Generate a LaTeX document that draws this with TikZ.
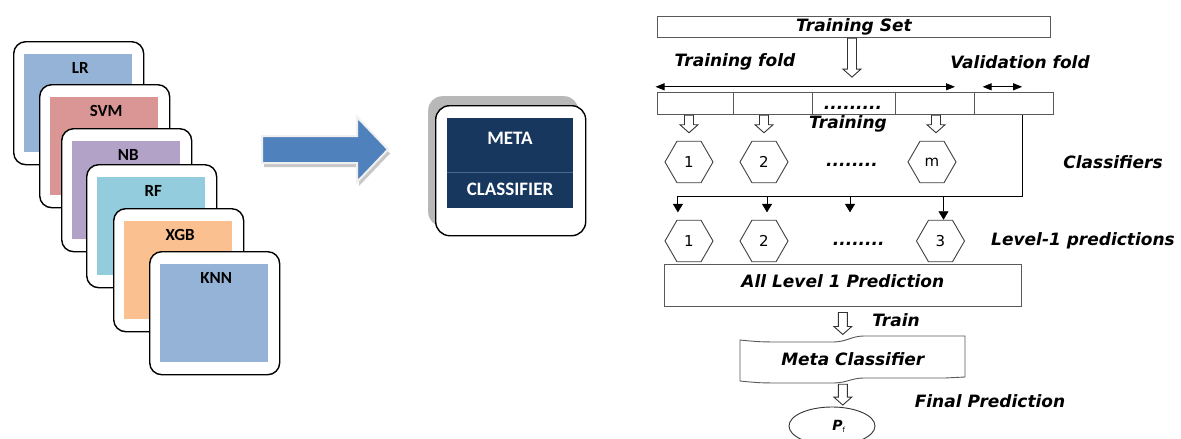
\documentclass[tikz,border=0pt]{standalone}
\usepackage{fontspec}
\setmainfont{DejaVu Sans}[ItalicFont={DejaVu Sans Oblique},BoldItalicFont={DejaVu Sans Bold Oblique}]
\newfontfamily\carl{Carlito}
\usetikzlibrary{shapes.geometric,arrows.meta,calc}
\definecolor{cblue}{HTML}{95B3D7}
\definecolor{cred}{HTML}{D99694}
\definecolor{cpurple}{HTML}{B3A2C7}
\definecolor{ccyan}{HTML}{93CDDD}
\definecolor{corange}{HTML}{FAC090}
\definecolor{cnavy}{HTML}{17375E}
\definecolor{cnavyl}{HTML}{4A6A90}
\definecolor{carrow}{HTML}{4F81BD}
\newcommand\lblfont{\bfseries\itshape\fontsize{17}{20}\selectfont}
\newcommand\mlcard[5]{%
  \node[card] (c#1) at (#2,#3) {};
  \node[cardin, fill=#4] (i#1) at ($(c#1.north west)+(11,12.5)$) {};
  \node[cardlbl] (l#1) at ($(i#1.north)+(2,14)$) {#5};}
\newcommand\harrow[2]{%
  \draw[fill=white, line width=0.9pt, draw=black!80] let \p1=#1, \p2=#2 in
   (\x1-4.5pt,\y1) -- (\x1+4.5pt,\y1) -- (\x1+4.5pt,\y2+8pt) -- (\x1+9pt,\y2+8pt)
   -- (\x1,\y2) -- (\x1-9pt,\y2+8pt) -- (\x1-4.5pt,\y2+8pt) -- cycle;}
\begin{document}
\begin{tikzpicture}[x=1pt,y=-1pt,
  card/.style={draw=black, line width=1.4pt, rounded corners=12pt, fill=white,
    minimum width=130pt, minimum height=123pt, anchor=north west, inner sep=0pt},
  cardin/.style={minimum width=108pt, minimum height=98.5pt, anchor=north west, inner sep=0pt},
  cardlbl/.style={font=\carl\bfseries\fontsize{17}{19}\selectfont, inner sep=0pt},
  metalbl/.style={text=white, font=\carl\bfseries\fontsize{19}{22}\selectfont, inner sep=0pt},
  lbl/.style={font=\lblfont, inner sep=0pt},
  box/.style={draw=black!65, line width=0.9pt, inner sep=0pt},
  hex/.style={regular polygon, regular polygon sides=6, draw=black!75, line width=0.9pt,
    minimum size=48pt, inner sep=0pt, font=\fontsize{15}{17}\selectfont},
  farrow/.style={-{Triangle[length=8.5pt,width=10pt]}, line width=0.9pt},
  darrow/.style={{Triangle[length=9pt,width=7pt]}-{Triangle[length=9pt,width=7pt]}, line width=0.9pt}]
\useasboundingbox[fill=white] (0,0) rectangle (1181,439);

% ---- left: base classifiers
\mlcard{1}{13}{41}{cblue}{LR}
\mlcard{2}{39}{84}{cred}{SVM}
\mlcard{3}{61}{128}{cpurple}{NB}
\mlcard{4}{86}{164}{ccyan}{RF}
\mlcard{5}{113}{208}{corange}{XGB}
\mlcard{6}{149}{251}{cblue}{KNN}

% ---- big arrow
\fill[black!22] (264,140) -- (359,140) -- (359,121) -- (390,153.5) -- (359,186) -- (359,167) -- (264,167) -- cycle;
\draw[fill=carrow, draw=black!6, line width=2pt] (262,136) -- (357,136) -- (357,117) -- (388,149.5) -- (357,182) -- (357,163) -- (262,163) -- cycle;

% ---- meta classifier card
\node[rounded corners=14pt, fill=black!28, minimum width=150pt, minimum height=130pt,
  anchor=north west, inner sep=0pt] (mshadow) at (428,96) {};
\node[draw=black, line width=1.4pt, rounded corners=14pt, fill=white, minimum width=150pt,
  minimum height=130pt, anchor=north west, inner sep=0pt] (mcard) at (435,105) {};
\node[fill=cnavy, minimum width=126pt, minimum height=90pt, anchor=north west, inner sep=0pt] (mnavy) at (447,118) {};
\draw[cnavyl, line width=0.6pt] (mnavy.west |- 0,172) -- (mnavy.east |- 0,172);
\node[metalbl] (mt1) at (510,138) {META};
\node[metalbl] (mt2) at (510,189) {CLASSIFIER};

% ---- right: stacking scheme
\node[box, font=\lblfont, minimum width=392.6pt, minimum height=21.7pt, anchor=north west] (tset) at (657.2,15.5) {Training Set};
\harrow{($(tset.south)+(-2,0)$)}{($(tset.south)+(-2,39)$)}

\node[lbl] (tf) at (735,62) {Training fold};
\node[lbl] (vf) at (1020,62) {Validation fold};
\coordinate (da1) at (655.5,86.8);
\coordinate (da2) at (955,86.8);
\coordinate (db1) at (982.6,86.8);
\coordinate (db2) at (1022.2,86.8);
\draw[darrow] (da1) -- (da2);
\draw[darrow] (db1) -- (db2);

\node[box, minimum width=75.8pt, minimum height=22pt, anchor=north west] (f1) at (657.2,92.3) {};
\node[box, minimum width=79.2pt, minimum height=22pt, anchor=north west] (f2) at (733,92.3) {};
\node[box, minimum width=82.6pt, minimum height=22pt, anchor=north west] (f3) at (812.2,92.3) {};
\node[box, minimum width=79.2pt, minimum height=22pt, anchor=north west] (f4) at (894.8,92.3) {};
\node[box, minimum width=79.2pt, minimum height=22pt, anchor=north west] (f5) at (974,92.3) {};
\node[font=\lblfont, anchor=base, inner sep=0pt] (f3d) at (853,109) {.........};

\node[lbl] (trn) at (848,123.4) {Training};

\node[hex] (h1) at (689,162) {1};
\node[hex] (h2) at (764,162) {2};
\node[hex] (hm) at (932,162) {m};
\node[font=\lblfont, inner sep=0pt] (hd1) at (852,165) {........};
\node[lbl] (cls) at (1113,162) {Classifiers};

\harrow{(h1.north |- f1.south)}{($(h1.north)+(0,-8)$)}
\harrow{(h2.north |- f2.south)}{($(h2.north)+(0,-8)$)}
\harrow{($(hm.north |- f4.south)+(4,0)$)}{($(hm.north)+(4,-8)$)}

% level-1 predictions
\node[hex] (p1) at (689,241) {1};
\node[hex] (p2) at (764,241) {2};
\node[hex] (p3) at (940.5,241) {3};
\node[font=\lblfont, inner sep=0pt] (pd) at (858.7,244) {........};
\node[lbl, anchor=west] (l1p) at (991,241) {Level-1 predictions};

\coordinate (vt) at ($(f5.south west)+(48.2,0)$);
\coordinate (vb) at (vt |- 0,196.4);
\coordinate (hl) at (677.9,196.4);
\coordinate (hd) at (850,196.4);
\draw[line width=0.9pt] (vt) -- (vb) -- (hl);
\draw[farrow] (hl) -- ++(0,16);
\draw[farrow] ($(p2.north |- hl)+(3,0)$) -- ++(0,16);
\draw[farrow] (hd) -- ++(0,16);
\draw[farrow] ($(p3.north |- hl)+(3,0)$) -- ($(p3.north)+(3,0)$);

\node[box, font=\lblfont, minimum width=357.5pt, minimum height=42pt, text height=12.5pt, text depth=8pt] (allp) at (842.8,285) {All Level 1 Prediction};

\node[lbl] (train) at (896,320.6) {Train};
\node[font=\lblfont, inner sep=0pt, minimum width=225pt, minimum height=40pt] (mc) at (852.8,359.5) {Meta Classifier};
\draw[box] (740,340) -- (740,381) .. controls (760,383) .. (790,383) -- (832,383) .. controls (848,383) and (850,378) .. (865,378)
  -- (945,378) .. controls (955,378) .. (965,377) -- (965,336) -- (865,336) .. controls (850,336) and (848,342) .. (832,342) -- (790,342) .. controls (760,342) .. (740,340) -- cycle;
\harrow{($(allp.south)+(0,6)$)}{($(allp.south)+(0,28)$)}

\node[lbl] (fp) at (990,401.5) {Final Prediction};
\node[ellipse, draw=black!80, line width=0.9pt, minimum width=86pt, minimum height=38pt, inner sep=0pt] (pf) at (832,426)
  {\hspace*{14pt}{\bfseries\itshape\fontsize{14}{16}\selectfont P}{\fontsize{10}{11}\selectfont\textsubscript{f}}};
\harrow{($(mc.south)+(-10,4.5)$)}{($(pf.north)+(10.5,-1.5)$)}
\end{tikzpicture}
\end{document}
